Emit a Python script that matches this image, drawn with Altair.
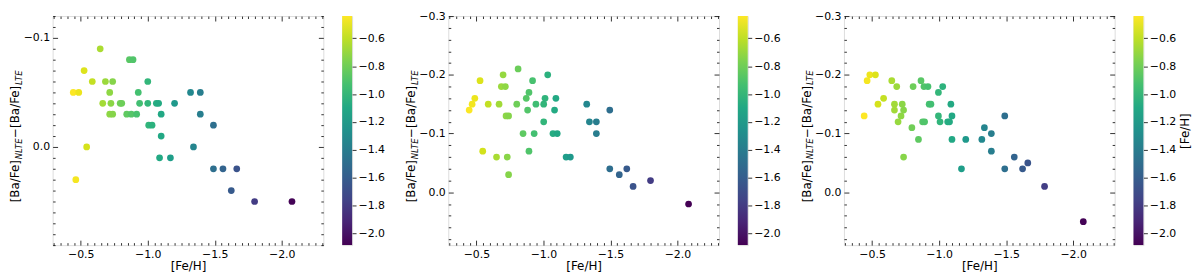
import altair as alt
import numpy as np
import pandas as pd

# ---------------- data ----------------
feh1 = [-0.444, -0.485, -0.463, -0.525, -0.544, -0.586, -0.645, -0.664, -0.684, -0.716,
        -0.725, -0.716, -0.738, -0.738, -0.794, -0.806, -0.843, -0.863, -0.890, -0.877,
        -0.917, -0.929, -0.939, -1.000, -1.000, -1.007, -1.032, -1.064, -1.081, -1.088,
        -1.100, -1.100, -1.169, -1.200, -1.319, -1.341, -1.392, -1.392, -1.490, -1.490,
        -1.561, -1.623, -1.664, -1.797, -2.076]
dba1 = [-0.05, -0.05, 0.03, -0.07, 0.00, -0.06, -0.09, -0.04, -0.06, -0.05,
        -0.04, -0.03, -0.06, -0.03, -0.04, -0.04, -0.03, -0.08, -0.08, -0.03,
        -0.03, -0.05, -0.04, -0.06, -0.04, -0.02, -0.02, -0.04, -0.04, 0.01,
        -0.03, -0.01, 0.01, -0.04, -0.05, 0.00, -0.05, -0.03, -0.02, 0.02,
        0.02, 0.04, 0.02, 0.05, 0.05]

feh2 = [-0.446, -0.468, -0.488, -0.527, -0.547, -0.588, -0.650, -0.669, -0.699, -0.686,
        -0.716, -0.721, -0.740, -0.730, -0.740, -0.801, -0.811, -0.848, -0.872, -0.882,
        -0.892, -0.892, -0.919, -0.931, -0.944, -1.002, -1.002, -1.012, -1.032, -1.071,
        -1.083, -1.103, -1.093, -1.169, -1.201, -1.323, -1.343, -1.395, -1.395, -1.495,
        -1.495, -1.566, -1.622, -1.669, -1.799, -2.083]
dba2 = [-0.14, -0.15, -0.16, -0.19, -0.07, -0.15, -0.06, -0.15, -0.20, -0.18,
        -0.18, -0.13, -0.13, -0.06, -0.03, -0.15, -0.21, -0.10, -0.16, -0.14,
        -0.17, -0.07, -0.19, -0.10, -0.15, -0.15, -0.12, -0.16, -0.20, -0.10,
        -0.14, -0.10, -0.16, -0.06, -0.06, -0.15, -0.12, -0.12, -0.10, -0.14,
        -0.04, -0.03, -0.04, -0.01, -0.02, 0.02]

feh3 = [-0.441, -0.463, -0.483, -0.525, -0.544, -0.586, -0.647, -0.667, -0.667, -0.684,
        -0.694, -0.716, -0.725, -0.735, -0.735, -0.797, -0.806, -0.846, -0.865, -0.877,
        -0.892, -0.887, -0.917, -0.926, -0.939, -0.995, -0.995, -1.007, -1.027, -1.064,
        -1.078, -1.088, -1.096, -1.096, -1.167, -1.199, -1.319, -1.338, -1.390, -1.390,
        -1.490, -1.490, -1.561, -1.623, -1.662, -1.787, -2.076]
dba3 = [-0.13, -0.19, -0.20, -0.20, -0.15, -0.16, -0.19, -0.15, -0.14, -0.18,
        -0.12, -0.13, -0.15, -0.14, -0.06, -0.11, -0.18, -0.09, -0.19, -0.12,
        -0.12, -0.18, -0.18, -0.15, -0.15, -0.17, -0.13, -0.12, -0.18, -0.12,
        -0.12, -0.15, -0.13, -0.09, -0.04, -0.09, -0.09, -0.11, -0.10, -0.07,
        -0.13, -0.04, -0.06, -0.04, -0.05, -0.01, 0.05]

x_major = [-0.5, -1.0, -1.5, -2.0]
y_major1 = [-0.1, 0.0]
y_major23 = [-0.3, -0.2, -0.1, 0.0]
cbar_ticks = [-0.6, -0.8, -1.0, -1.2, -1.4, -1.6, -1.8, -2.0]

x_domain = [-2.31, -0.29]
y_domain1 = [-0.12, 0.09]
y_domain23 = [-0.30, 0.09]

# y-axis title pieces: main text and italic subscripts
ytitle_parts = ["[Ba/Fe]", "NLTE", "\u2212[Ba/Fe]", "LTE"]
xtitle = "[Fe/H]"
cbar_title = "[Fe/H]"

viridis = ["#440154", "#482475", "#414487", "#355f8d", "#2a788e", "#21918c",
           "#22a884", "#44bf70", "#7ad151", "#bddf26", "#fde725"]

# ---------------- styling ----------------
FONT = "DejaVu Sans"
FS = 11          # tick labels
TFS = 12         # axis titles
SFS = 8.5        # subscripts
W, H = 273, 231
CBW = 10
TX = -34         # baseline of the rotated y title, relative to plot left edge
SUB = 2.5        # subscript shift

# approximate DejaVu Sans advance widths (em) to lay out the y-title pieces
EM = {"[": 0.390, "]": 0.390, "B": 0.686, "a": 0.613, "/": 0.337, "F": 0.575,
      "e": 0.615, "N": 0.748, "L": 0.557, "T": 0.611, "E": 0.632, "\u2212": 0.838}


def text_w(s, size):
    return sum(EM.get(ch, 0.6) for ch in s) * size


all_feh = feh1 + feh2 + feh3
cmin, cmax = min(all_feh), max(all_feh)


def minor_vals(lo, hi, step, majors):
    vals = np.round(np.arange(np.ceil(lo / step) * step, hi + 1e-9, step), 3)
    return [float(v) for v in vals if all(abs(v - m) > 1e-6 for m in majors)]


def title_layout():
    sizes = [TFS, SFS, TFS, SFS]
    widths = [text_w(p, s) for p, s in zip(ytitle_parts, sizes)]
    start = H / 2 + 5 + sum(widths) / 2
    ys = []
    for w in widths:
        ys.append(start)
        start -= w
    return ys


def make_axis(orient, values, size, labels, title=None, **extra):
    kw = dict(orient=orient, values=values, tickSize=size, offset=-size,
              domain=False, grid=False, labels=labels, tickColor="black",
              tickWidth=0.8)
    if labels:
        kw.update(format=".1f", labelFont=FONT, labelFontSize=FS,
                  labelColor="black", labelPadding=3)
    if title:
        kw.update(title=title, titleFont=FONT, titleFontSize=TFS,
                  titleFontWeight="normal", titleColor="black")
        kw.update(extra)
    else:
        kw["title"] = None
    return alt.Axis(**kw)


def rot_title(x, y, size, italic):
    d = dict(titleAngle=270, titleAlign="left", titleBaseline="alphabetic",
             titleX=x, titleY=y, titleFontSize=size)
    if italic:
        d["titleFontStyle"] = "italic"
    return d


def scatter(feh, dba, ydom, ymaj, ystep):
    df = pd.DataFrame({"feh": feh, "dba": dba})
    xs = alt.Scale(domain=x_domain, reverse=True, nice=False, zero=False)
    ys = alt.Scale(domain=ydom, reverse=True, nice=False, zero=False)
    xmin = minor_vals(x_domain[0], x_domain[1], 0.05, x_major)
    ymin = minor_vals(ydom[0], ydom[1], ystep, ymaj)
    ty = title_layout()

    pts = alt.Chart(df).mark_circle(size=46, opacity=1).encode(
        x=alt.X("feh:Q", scale=xs,
                axis=make_axis("bottom", x_major, 5, True, xtitle, titlePadding=2)),
        y=alt.Y("dba:Q", scale=ys,
                axis=make_axis("left", ymaj, 5, True, ytitle_parts[0],
                               **rot_title(TX - 5, ty[0], TFS, False))),
        color=alt.Color("feh:Q",
                        scale=alt.Scale(scheme="viridis", domain=[cmin, cmax]),
                        legend=None),
    )
    inv = alt.Chart(df).mark_circle(opacity=0)
    l2 = inv.encode(
        x=alt.X("feh:Q", scale=xs, axis=make_axis("bottom", xmin, 2.5, False)),
        y=alt.Y("dba:Q", scale=ys,
                axis=make_axis("left", ymin, 2.5, False, ytitle_parts[1],
                               **rot_title(TX + SUB - 2.5, ty[1], SFS, True))),
    )
    l3 = inv.encode(
        x=alt.X("feh:Q", scale=xs, axis=make_axis("top", x_major, 5, False)),
        y=alt.Y("dba:Q", scale=ys,
                axis=make_axis("right", ymaj, 5, False, ytitle_parts[2],
                               **rot_title(TX - (W - 5), ty[2], TFS, False))),
    )
    l4 = inv.encode(
        x=alt.X("feh:Q", scale=xs, axis=make_axis("top", xmin, 2.5, False)),
        y=alt.Y("dba:Q", scale=ys,
                axis=make_axis("right", ymin, 2.5, False, ytitle_parts[3],
                               **rot_title(TX + SUB - (W - 2.5), ty[3], SFS, True))),
    )
    return (alt.layer(pts, l2, l3, l4)
            .resolve_axis(x="independent", y="independent")
            .properties(width=W, height=H))


def colorbar(title=None):
    cdf = pd.DataFrame({"lo": [cmin], "hi": [cmax]})
    kw = dict(orient="right", values=cbar_ticks, format=".1f", tickSize=4,
              domain=False, grid=False, tickColor="black", tickWidth=0.8,
              labelFont=FONT, labelFontSize=FS, labelColor="black",
              labelPadding=2)
    if title:
        kw.update(title=title, titleAngle=270, titleBaseline="top",
                  titleAlign="center", titleFont=FONT, titleFontSize=TFS,
                  titleFontWeight="normal", titleColor="black", titlePadding=4)
    else:
        kw["title"] = None
    grad = alt.Gradient(
        gradient="linear",
        stops=[alt.GradientStop(offset=i / (len(viridis) - 1), color=c)
               for i, c in enumerate(viridis)],
        x1=0, x2=0, y1=1, y2=0,
    )
    return alt.Chart(cdf).mark_rect(fill=grad).encode(
        y=alt.Y("lo:Q", scale=alt.Scale(domain=[cmin, cmax], nice=False, zero=False),
                axis=alt.Axis(**kw)),
        y2="hi:Q",
        x=alt.value(0),
        x2=alt.value(CBW),
    ).properties(width=CBW, height=H)


g1 = alt.hconcat(scatter(feh1, dba1, y_domain1, y_major1, 0.01), colorbar(), spacing=17)
g2 = alt.hconcat(scatter(feh2, dba2, y_domain23, y_major23, 0.02), colorbar(), spacing=17)
g3 = alt.hconcat(scatter(feh3, dba3, y_domain23, y_major23, 0.02), colorbar(cbar_title), spacing=17)

chart = (alt.hconcat(g1, g2, g3, spacing=18)
         .properties(padding=0)
         .configure_view(stroke="black", strokeWidth=1)
         .configure(font=FONT))

chart.save("out.html", embed_options={"renderer": "svg", "actions": False})
